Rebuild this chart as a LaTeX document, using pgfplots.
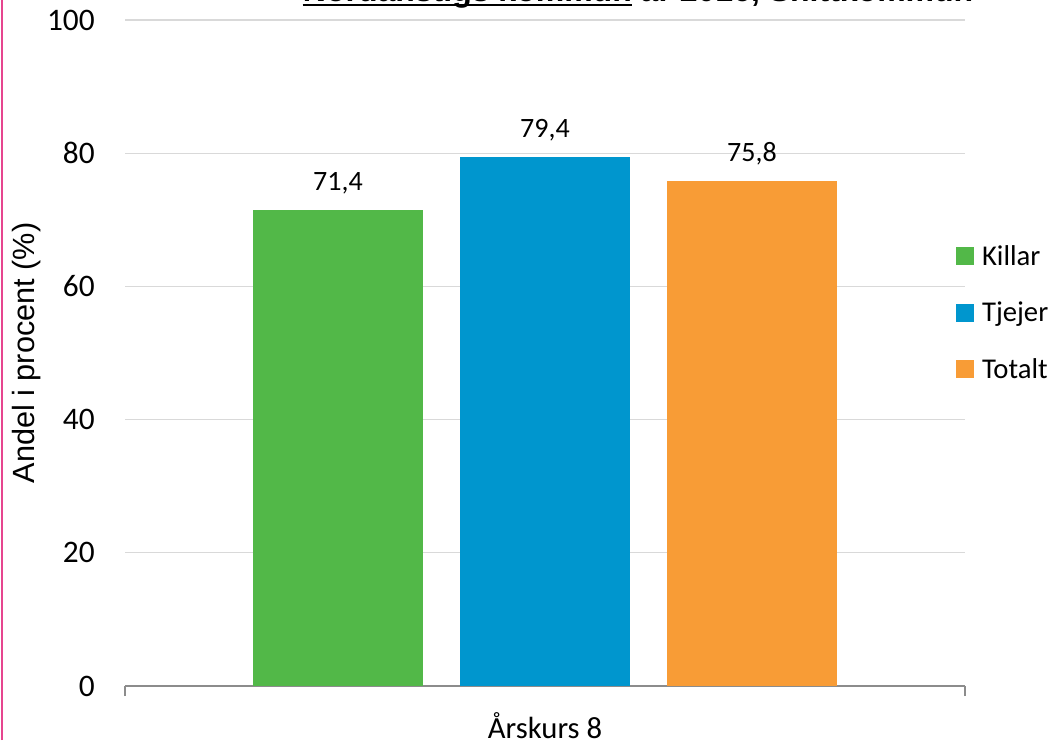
\documentclass[border=0pt]{standalone}
\usepackage{pgfplots}
\pgfplotsset{compat=1.18}
\usepackage{fontspec}
\setmainfont{Carlito}
\newfontfamily\arialf{Liberation Sans}
\definecolor{cgreen}{HTML}{52B848}
\definecolor{cblue}{HTML}{0096CE}
\definecolor{corange}{HTML}{F89C36}
\definecolor{gridc}{HTML}{D9D9D9}
\definecolor{axisc}{HTML}{8C8C8C}
\definecolor{pinkc}{HTML}{E6458F}
\begin{document}
\begin{tikzpicture}
\useasboundingbox (0,0) rectangle (798pt,555pt);
\clip (0,0) rectangle (798pt,555pt);
\draw[pinkc, line width=1.2pt] (1.5pt,0) -- (1.5pt,555pt);
\node[anchor=base west, inner sep=0pt, font=\arialf\bfseries\fontsize{24}{28}\selectfont] at (227pt,553.5pt) {Nordanstigs kommun år 2016, Snittkommun};
\draw[black, line width=1.6pt] (227pt,551pt) -- (474pt,551pt);
\begin{axis}[
  at={(93.75pt,40.5pt)}, anchor=south west,
  width=630pt, height=499.5pt, scale only axis,
  xmin=-0.5, xmax=0.5, ymin=0, ymax=100,
  ybar, bar width=127.5pt,
  axis x line*=bottom, axis y line*=left,
  x axis line style={axisc, line width=0.8pt},
  y axis line style={draw=none},
  ytick={0,20,40,60,80,100},
  ytick style={draw=none},
  ymajorgrids, grid style={gridc, line width=0.8pt},
  yticklabel style={inner sep=0pt, xshift=-22.5pt, font=\fontsize{23.5}{27}\selectfont},
  /pgf/number format/assume math mode=true,
  xtick={0}, xticklabels={Årskurs 8},
  xtick style={draw=none},
  xticklabel style={anchor=base, inner sep=0pt, yshift=-35pt, font=\fontsize{23}{27}\selectfont},
  extra x ticks={-0.5,0.5}, extra x tick labels={},
  extra x tick style={xtick style={draw=axisc, line width=0.8pt}, tick align=outside, major tick length=7.5pt},
  ylabel={Andel i procent (\%)},
  ylabel style={at={(axis description cs:-0.1167,0.5)}, anchor=center, inner sep=0pt, font=\arialf\fontsize{23}{27}\selectfont},
  nodes near coords,
  nodes near coords style={anchor=base, yshift=15pt, inner sep=0pt, font=\fontsize{21}{25}\selectfont, text=black,
    /pgf/number format/.cd, fixed, fixed zerofill, precision=1, use comma, assume math mode=true},
  legend style={at={(axis description cs:0.989,0.659)}, anchor=north west, draw=none, fill=none, inner sep=0pt,
    font=\fontsize{21.5}{25}\selectfont, row sep=28.9pt,
    nodes={inner sep=0pt, text height=13.5pt, text depth=0pt},
    /tikz/every odd column/.append style={column sep=6pt}},
  legend cell align=left,
  legend image code/.code={\fill[#1] (0pt,-6.75pt) rectangle (13.5pt,6.75pt);},
]
\addplot[fill=cgreen, draw=none, bar shift=-155.25pt] coordinates {(0,71.4)};
\addplot[fill=cblue, draw=none, bar shift=0pt] coordinates {(0,79.4)};
\addplot[fill=corange, draw=none, bar shift=155.25pt] coordinates {(0,75.8)};
\legend{Killar,Tjejer,Totalt}
\end{axis}
\end{tikzpicture}
\end{document}
